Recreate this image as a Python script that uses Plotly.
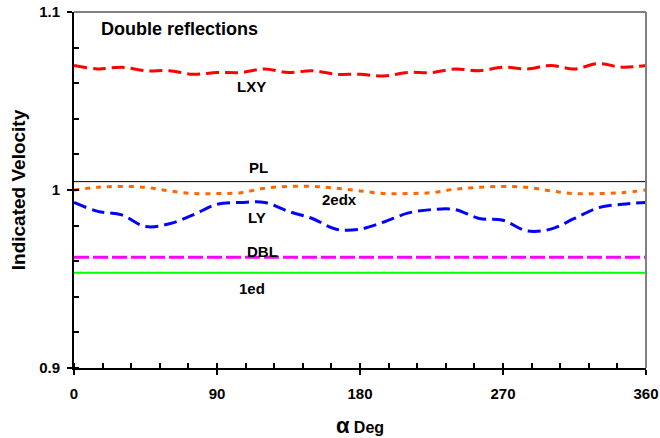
import plotly.graph_objects as go

alpha = [0, 15, 30, 45, 60, 75, 90, 105, 120, 135, 150, 165, 180,
         195, 210, 225, 240, 255, 270, 285, 300, 315, 330, 345, 360]
lxy = [1.070, 1.068, 1.069, 1.067, 1.067, 1.065, 1.066, 1.066, 1.068, 1.066, 1.067, 1.065, 1.065,
       1.064, 1.066, 1.066, 1.068, 1.067, 1.069, 1.068, 1.070, 1.068, 1.071, 1.069, 1.070]
edx2 = [1.000, 1.0015, 1.002, 1.0015, 0.9995, 0.998, 0.998, 0.9985, 1.001, 1.002, 1.002, 1.001, 0.9995,
        0.998, 0.998, 0.9985, 1.0005, 1.0015, 1.002, 1.0015, 0.9995, 0.998, 0.998, 0.9985, 1.000]
ly = [0.993, 0.988, 0.986, 0.9795, 0.981, 0.986, 0.992, 0.993, 0.993, 0.988, 0.984, 0.978, 0.978,
      0.982, 0.987, 0.989, 0.989, 0.984, 0.983, 0.977, 0.978, 0.984, 0.990, 0.992, 0.993]
pl_value = 1.0047
dbl_value = 0.9622
ed1_value = 0.9535

x_ticks = [0, 90, 180, 270, 360]
y_ticks = [0.9, 1.0, 1.1]
y_tick_text = ["0.9", "1", "1.1"]

labels = [
    ("LXY", 112, 1.0579),
    ("PL", 116.4, 1.0124),
    ("2edx", 167.4, 0.9949),
    ("LY", 115.2, 0.9848),
    ("DBL", 118.4, 0.9657),
    ("1ed", 112, 0.9444),
]

fig = go.Figure()
fig.add_trace(go.Scatter(x=alpha, y=lxy, mode="lines", line=dict(color="#ff0000", width=3, dash="13px,6px", shape="spline")))
fig.add_trace(go.Scatter(x=[0, 360], y=[pl_value, pl_value], mode="lines", line=dict(color="black", width=1)))
fig.add_trace(go.Scatter(x=alpha, y=edx2, mode="lines", line=dict(color="#ff6600", width=3, dash="5px,6px", shape="spline")))
fig.add_trace(go.Scatter(x=alpha, y=ly, mode="lines", line=dict(color="#0000ff", width=3, dash="13px,6px", shape="spline")))
fig.add_trace(go.Scatter(x=[0, 360], y=[dbl_value, dbl_value], mode="lines", line=dict(color="#ff00ff", width=3, dash="15px,4px")))
fig.add_trace(go.Scatter(x=[0, 360], y=[ed1_value, ed1_value], mode="lines", line=dict(color="#00ff00", width=2)))

font_b = "Liberation Sans"
for txt, xv, yv in labels:
    fig.add_annotation(x=xv, y=yv, text="<b>%s</b>" % txt, showarrow=False,
                       font=dict(family=font_b, size=15, color="black"))
fig.add_annotation(x=15.7, y=1.0904, text="<b>Double reflections</b>", showarrow=False, xanchor="left",
                   font=dict(family=font_b, size=18, color="black"))

# gray top/right border
fig.add_shape(type="line", xref="paper", yref="paper", x0=0, x1=1, y0=1, y1=1, line=dict(color="#808080", width=2))
fig.add_shape(type="line", xref="paper", yref="paper", x0=1, x1=1, y0=0, y1=1, line=dict(color="#808080", width=2))

fig.update_layout(
    width=660, height=438,
    margin=dict(l=74, r=14, t=12, b=70),
    paper_bgcolor="white", plot_bgcolor="white",
    showlegend=False,
    xaxis=dict(range=[0, 360], tickvals=x_ticks, ticktext=["<b>%d</b>" % v for v in x_ticks],
               ticks="outside", ticklen=5, tickwidth=2, tickcolor="black", automargin=False,
               showline=True, linecolor="black", linewidth=2, showgrid=False, zeroline=False,
               minor=dict(dtick=18, ticks="inside", ticklen=5, tickwidth=2, tickcolor="black"),
               ticklabelstandoff=6,
               tickfont=dict(family=font_b, size=15, color="black"),
               title=dict(text="<b><span style='font-size:22px'>α</span> Deg</b>", standoff=22,
                          font=dict(family=font_b, size=16, color="black"))),
    yaxis=dict(range=[0.9, 1.1], tickvals=y_ticks, ticktext=["<b>%s</b>" % t for t in y_tick_text],
               ticks="outside", ticklen=5, tickwidth=2, tickcolor="black", automargin=False,
               showline=True, linecolor="black", linewidth=2, showgrid=False, zeroline=False,
               minor=dict(dtick=0.02, tick0=0.9, ticks="inside", ticklen=5, tickwidth=2, tickcolor="black"),
               ticklabelstandoff=4,
               tickfont=dict(family=font_b, size=15, color="black"),
               title=dict(text="<b>Indicated Velocity</b>", standoff=8,
                          font=dict(family=font_b, size=19, color="black"))),
    xaxis2=dict(overlaying="x", range=[0, 360], tickvals=x_ticks, ticks="inside", ticklen=5, tickwidth=2,
                tickcolor="black", showticklabels=False, showgrid=False, zeroline=False, showline=False, side="bottom",
                automargin=False),
    yaxis2=dict(overlaying="y", range=[0.9, 1.1], tickvals=y_ticks, ticks="inside", ticklen=5, tickwidth=2,
                tickcolor="black", showticklabels=False, showgrid=False, zeroline=False, showline=False, side="left",
                automargin=False),
)
fig.add_trace(go.Scatter(x=[0], y=[1.0], xaxis="x2", yaxis="y2", mode="markers", marker=dict(opacity=0), hoverinfo="skip"))
fig.write_html("out.html")
